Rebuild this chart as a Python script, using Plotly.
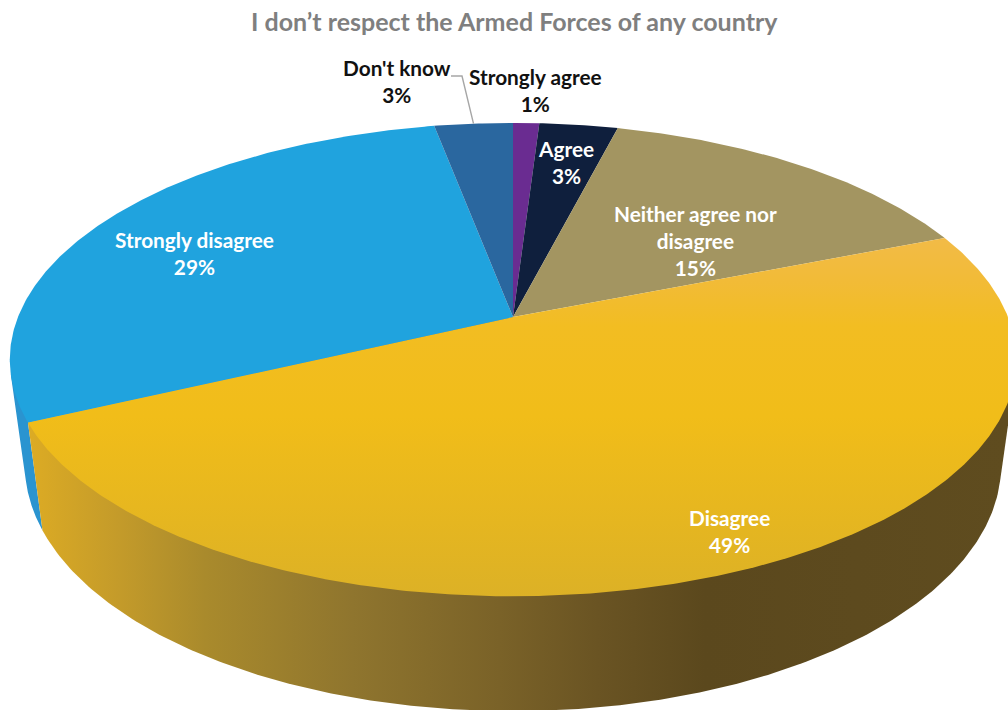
import numpy as np
import plotly.graph_objects as go

# Survey shares, clockwise from twelve o'clock
categories = ["Strongly agree", "Agree", "Neither agree nor disagree", "Disagree", "Strongly disagree", "Don't know"]
shares = [1, 3, 15, 49, 29, 3]
top_colors = ["#6a2c91", "#0f1f3d", "#a39561", "#f2bd1e", "#20a3de", "#2a679f"]
wall_colors = ["#4f2170", "#0b172e", "#7a7048", "#8a6f28", "#2a94d0", "#1f4d77"]

WIDTH, HEIGHT = 1008, 710
TITLE = "I don\u2019t respect the Armed Forces of any country"
FONT = "Lato"

# Tilted-disc projection: the hub sits at (CX, CY), the far rim is foreshortened
CX, CY = 513.0, 317.0
SPAN_X, SPAN_Y, TILT = 495.0, 229.0, 0.18
# The lower rim of the slab: narrower about the hub, stretched and dropped vertically
BASE_X_SCALE, BASE_Y_SCALE, BASE_Y_SHIFT = 0.97, 1.04, 91.0


def rim(theta):
    """Screen position of a top-rim point; theta is clockwise from the top, in radians."""
    s = 1.0 / (1.0 + TILT * np.cos(theta))
    return CX + SPAN_X * np.sin(theta) * s, CY - SPAN_Y * np.cos(theta) * s


def base_rim(theta):
    """Screen position of the point under rim(theta) on the lower edge of the slab."""
    x, y = rim(theta)
    return CX + BASE_X_SCALE * (x - CX), BASE_Y_SCALE * y + BASE_Y_SHIFT


def silhouette_angles():
    """Angles at which a vertical edge of the slab grazes the outline, right and left."""
    t = np.radians(np.linspace(60, 300, 4801))
    tx, ty = rim(t)
    bx, by = base_rim(t)
    cross = (bx - tx) * np.gradient(ty) - (by - ty) * np.gradient(tx)
    flips = np.where(np.sign(cross[:-1]) != np.sign(cross[1:]))[0]
    return t[flips[0]], t[flips[-1]]


edges = np.radians(np.cumsum([0] + shares) / sum(shares) * 360.0)
front_start, front_end = silhouette_angles()

fig = go.Figure()

# Side walls first; the top faces are painted over them
wall_order = [4, 3]
for i in wall_order:
    a = max(edges[i], front_start)
    b = min(edges[i + 1], front_end)
    t = np.linspace(a, b, 240)
    bx, by = base_rim(t)
    ax0, ay0 = rim(np.array([a]))
    ax1, ay1 = rim(np.array([b]))
    xs = np.concatenate([[CX], ax0, bx, ax1, [CX]])
    ys = np.concatenate([[CY], ay0, by, ay1, [CY]])
    style = dict(fillcolor=wall_colors[i])
    if categories[i] == "Disagree":
        style = dict(fillgradient=dict(
            type="horizontal", start=30, stop=1008,
            colorscale=[[0.0, "#dcab24"], [0.09, "#c49b2a"], [0.18, "#a98a2c"],
                        [0.33, "#8f752e"], [0.48, "#7a6228"], [0.58, "#6a5423"],
                        [0.69, "#5b481d"], [1.0, "#5f4c1f"]]))
    fig.add_trace(go.Scatter(x=xs, y=ys, mode="lines", fill="toself",
                             line=dict(width=0), hoverinfo="skip", showlegend=False, **style))

# Top faces
for i, name in enumerate(categories):
    t = np.linspace(edges[i], edges[i + 1], max(12, int(shares[i] * 8)))
    rx, ry = rim(t)
    xs = np.concatenate([[CX], rx, [CX]])
    ys = np.concatenate([[CY], ry, [CY]])
    style = dict(fillcolor=top_colors[i])
    if name == "Disagree":
        style = dict(fillgradient=dict(
            type="vertical", start=235, stop=597,
            colorscale=[[0.0, "#f2bb48"], [0.12, "#f2bb38"], [0.25, "#f2bd22"],
                        [0.5, "#f1bd19"], [0.75, "#e7b71f"], [1.0, "#dcb126"]]))
    fig.add_trace(go.Scatter(x=xs, y=ys, mode="lines", fill="toself", name=name,
                             line=dict(width=0), hoverinfo="skip", showlegend=False, **style))

# Leader from the outside label to the middle of its slice
dk = categories.index("Don't know")
lx, ly = rim(np.array([(edges[dk] + edges[dk + 1]) / 2]))
fig.add_trace(go.Scatter(x=[451, 462, lx[0]], y=[76, 76, ly[0]], mode="lines",
                         line=dict(color="#a6a6a6", width=1.4),
                         hoverinfo="skip", showlegend=False))

label_spots = {
    "Strongly agree": (535, 90, "#111111"),
    "Agree": (566, 162, "#ffffff"),
    "Neither agree nor disagree": (695, 240, "#ffffff"),
    "Disagree": (729, 531, "#ffffff"),
    "Strongly disagree": (194, 253, "#ffffff"),
    "Don't know": (396.5, 81, "#111111"),
}
wrapped = {"Neither agree nor disagree": "Neither agree nor<br>disagree"}
annotations = [dict(x=514, y=21, text=f"<b>{TITLE}</b>", showarrow=False,
                    font=dict(family=FONT, size=25, color="#7f7f7f"))]
for name, share in zip(categories, shares):
    x, y, color = label_spots[name]
    annotations.append(dict(
        x=x, y=y, text=f"<b>{wrapped.get(name, name)}<br>{share}%</b>", showarrow=False,
        align="center", font=dict(family=FONT, size=20.8, color=color)))

hidden = dict(visible=False, fixedrange=True)
fig.update_layout(
    width=WIDTH, height=HEIGHT, margin=dict(l=0, r=0, t=0, b=0),
    paper_bgcolor="white", plot_bgcolor="white", showlegend=False,
    xaxis=dict(range=[0, WIDTH], **hidden),
    yaxis=dict(range=[HEIGHT, 0], **hidden),
    annotations=annotations,
)
fig.write_html("out.html", config=dict(displayModeBar=False))
